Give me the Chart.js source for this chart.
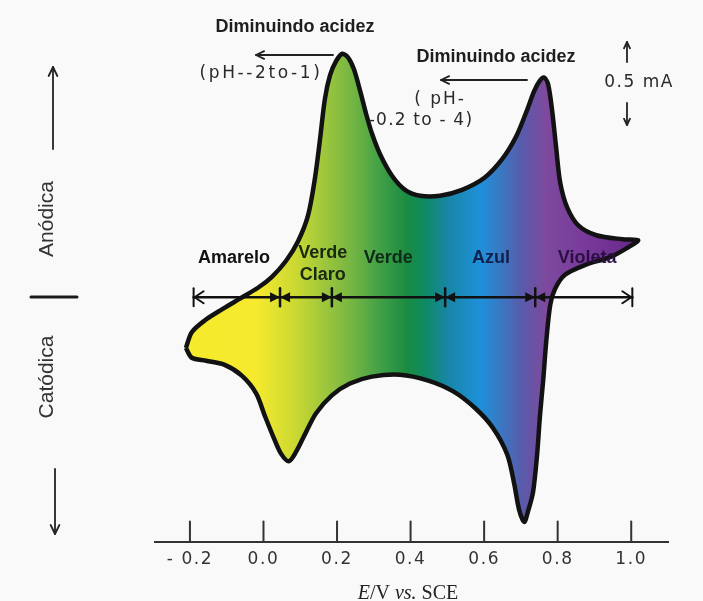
<!DOCTYPE html>
<html>
<head>
<meta charset="utf-8">
<script src="https://cdn.jsdelivr.net/npm/chart.js@4.4.0/dist/chart.umd.min.js"></script>
<style>
  html, body { margin: 0; padding: 0; background: #f9f9f9; }
  #wrap { width: 703px; height: 601px; }
</style>
</head>
<body>
<div id="wrap"><canvas id="cv" width="703" height="601"></canvas></div>
<script>
// Voltamograma ciclico - varredura direta (anodica) e reversa (catodica)
const forwardV = [-0.211, -0.195, -0.159, -0.113, -0.064, -0.015, 0.023, 0.061, 0.094, 0.121, 0.140, 0.154, 0.167, 0.181, 0.197, 0.214, 0.230, 0.246, 0.263, 0.279, 0.295, 0.317, 0.350, 0.385, 0.426, 0.480, 0.540, 0.600, 0.649, 0.687, 0.717, 0.736, 0.752, 0.763, 0.774, 0.785, 0.796, 0.807, 0.826, 0.856, 0.905, 0.976, 1.019];
const forwardI = [-0.309, -0.213, -0.140, -0.074, -0.008, 0.058, 0.125, 0.221, 0.342, 0.498, 0.727, 0.968, 1.209, 1.354, 1.438, 1.485, 1.462, 1.390, 1.257, 1.119, 0.998, 0.872, 0.739, 0.655, 0.619, 0.619, 0.655, 0.727, 0.842, 0.980, 1.143, 1.257, 1.323, 1.340, 1.299, 1.137, 0.908, 0.697, 0.546, 0.438, 0.378, 0.354, 0.348];
const reverseV = [0.992, 0.943, 0.875, 0.820, 0.793, 0.780, 0.769, 0.761, 0.752, 0.744, 0.733, 0.720, 0.709, 0.695, 0.682, 0.663, 0.624, 0.576, 0.516, 0.448, 0.371, 0.295, 0.235, 0.186, 0.143, 0.116, 0.088, 0.069, 0.048, 0.029, 0.004, -0.020, -0.059, -0.107, -0.156, -0.195, -0.211];
const reverseI = [0.305, 0.245, 0.197, 0.137, 0.052, -0.044, -0.267, -0.496, -0.719, -0.960, -1.189, -1.300, -1.370, -1.295, -1.140, -0.960, -0.797, -0.677, -0.574, -0.508, -0.472, -0.484, -0.526, -0.598, -0.707, -0.821, -0.945, -1.000, -0.955, -0.863, -0.725, -0.586, -0.478, -0.411, -0.387, -0.369, -0.309];

const tickValues = [-0.2, 0.0, 0.2, 0.4, 0.6, 0.8, 1.0];

// faixas de cor ao longo do potencial
const bandEdges = [-0.19, 0.045, 0.186, 0.494, 0.739, 1.003];
const bandNames = [['Amarelo'], ['Verde', 'Claro'], ['Verde'], ['Azul'], ['Violeta']];
const bandLabelV = [-0.08, 0.161, 0.339, 0.619, 0.88];

// cores do preenchimento (estilo)
const fillStops = [
    [-0.30, '#f6ea2c'], [-0.02, '#f6ea2e'], [0.09, '#c9d832'], [0.155, '#a4c93b'],
    [0.255, '#6cb244'], [0.317, '#41a046'], [0.39, '#1b8b42'], [0.434, '#0e8a5c'],
    [0.50, '#1886a6'], [0.59, '#1e90da'], [0.645, '#3a78c2'], [0.705, '#5a5aaa'],
    [0.765, '#7d4a9e'], [0.86, '#7a3c9c'], [1.0, '#6a2a8c'], [1.1, '#662888']
];
const bandTextColors = ['#111', '#1a2a12', '#0f2a18', '#10204a', '#2a1040'];

const loop = forwardV.map((v, i) => ({ x: v, y: forwardI[i] }))
    .concat(reverseV.map((v, i) => ({ x: v, y: reverseI[i] })));

function bandGradient(chart) {
    const { ctx, chartArea, scales } = chart;
    if (!chartArea) return 'transparent';
    const x0 = chartArea.left, x1 = chartArea.right;
    const g = ctx.createLinearGradient(x0, 0, x1, 0);
    fillStops.forEach(([v, c]) => {
        const t = (scales.x.getPixelForValue(v) - x0) / (x1 - x0);
        g.addColorStop(Math.min(1, Math.max(0, t)), c);
    });
    return g;
}

function seg(ctx, x1, y1, x2, y2) {
    ctx.beginPath();
    ctx.moveTo(x1, y1);
    ctx.lineTo(x2, y2);
    ctx.stroke();
}

// seta aberta (cabeca em x2,y2)
function arrow(ctx, x1, y1, x2, y2, head) {
    seg(ctx, x1, y1, x2, y2);
    const a = Math.atan2(y2 - y1, x2 - x1);
    ctx.beginPath();
    ctx.moveTo(x2 - head * Math.cos(a - 0.45), y2 - head * Math.sin(a - 0.45));
    ctx.lineTo(x2, y2);
    ctx.lineTo(x2 - head * Math.cos(a + 0.45), y2 - head * Math.sin(a + 0.45));
    ctx.stroke();
}

function text(ctx, str, x, y, font, color, spacing) {
    ctx.font = font;
    ctx.fillStyle = color;
    ctx.letterSpacing = spacing || '0px';
    ctx.fillText(str, x, y);
}

const decor = {
    id: 'decor',
    beforeDraw(chart) {
        chart.ctx.letterSpacing = '1.6px';
    },
    afterDatasetsDraw(chart) {
        const { ctx, chartArea, scales: { x, y } } = chart;
        ctx.save();
        ctx.letterSpacing = '0px';
        ctx.lineCap = 'round';
        ctx.lineJoin = 'round';

        // marcas do eixo voltadas para cima
        ctx.strokeStyle = '#333';
        ctx.lineWidth = 2;
        x.ticks.forEach(t => {
            const px = x.getPixelForValue(t.value);
            seg(ctx, px, chartArea.bottom, px, chartArea.bottom - 20);
        });

        // linha das faixas de cor
        const y0 = y.getPixelForValue(0);
        const xs = bandEdges.map(v => x.getPixelForValue(v));
        ctx.strokeStyle = '#111';
        ctx.fillStyle = '#111';
        ctx.lineWidth = 2.5;
        seg(ctx, xs[0], y0, xs[xs.length - 1], y0);
        ctx.lineWidth = 2;
        const xl = xs[0], xr = xs[xs.length - 1];
        seg(ctx, xl, y0 - 9, xl, y0 + 9);
        seg(ctx, xr, y0 - 9, xr, y0 + 9);
        ctx.beginPath();
        ctx.moveTo(xl + 10, y0 - 6); ctx.lineTo(xl + 1, y0); ctx.lineTo(xl + 10, y0 + 6);
        ctx.stroke();
        ctx.beginPath();
        ctx.moveTo(xr - 10, y0 - 6); ctx.lineTo(xr - 1, y0); ctx.lineTo(xr - 10, y0 + 6);
        ctx.stroke();
        ctx.lineWidth = 2.5;
        xs.slice(1, -1).forEach(px => {
            seg(ctx, px, y0 - 9, px, y0 + 9);
            ctx.beginPath();
            ctx.moveTo(px - 10, y0 - 5); ctx.lineTo(px, y0); ctx.lineTo(px - 10, y0 + 5);
            ctx.closePath(); ctx.fill();
            ctx.beginPath();
            ctx.moveTo(px + 10, y0 - 5); ctx.lineTo(px, y0); ctx.lineTo(px + 10, y0 + 5);
            ctx.closePath(); ctx.fill();
        });

        // nomes das faixas
        ctx.textAlign = 'center';
        ctx.textBaseline = 'middle';
        bandNames.forEach((lines, i) => {
            const px = x.getPixelForValue(bandLabelV[i]);
            const top = lines.length > 1 ? y0 - 44 : y0 - 39;
            lines.forEach((ln, k) => {
                text(ctx, ln, px, top + k * 22, 'bold 18px "Liberation Sans", Arial, sans-serif', bandTextColors[i]);
            });
        });
        ctx.restore();
    },
    afterDraw(chart) {
        const { ctx } = chart;
        ctx.save();
        ctx.lineCap = 'round';
        ctx.lineJoin = 'round';
        ctx.textAlign = 'center';
        ctx.textBaseline = 'middle';
        const bold = 'bold 18px "Liberation Sans", Arial, sans-serif';
        const din = '17px "DejaVu Sans", sans-serif';

        // anotacoes do topo
        text(ctx, 'Diminuindo acidez', 295, 27, bold, '#1e1e1e');
        text(ctx, '(pH--2to-1)', 261, 74, din, '#2a2a2a', '2.6px');
        text(ctx, 'Diminuindo acidez', 496, 57, bold, '#1e1e1e');
        text(ctx, '( pH-', 440, 100, din, '#2a2a2a', '2px');
        text(ctx, '-0.2 to - 4)', 421, 121, din, '#2a2a2a', '1.2px');
        text(ctx, '0.5 mA', 639, 83, din, '#2a2a2a', '1.5px');

        ctx.letterSpacing = '0px';
        ctx.strokeStyle = '#222';
        ctx.lineWidth = 1.8;
        arrow(ctx, 333, 55, 256, 55, 9);
        arrow(ctx, 527, 80, 441, 80, 9);
        arrow(ctx, 627, 62, 627, 42, 7);
        arrow(ctx, 627, 103, 627, 125, 7);

        // lado esquerdo
        arrow(ctx, 53, 149, 53, 67, 10);
        arrow(ctx, 55, 469, 55, 534, 10);
        ctx.lineWidth = 3;
        ctx.strokeStyle = '#1a1a1a';
        seg(ctx, 31, 297, 77, 297);

        const side = '21px "Liberation Sans", Arial, sans-serif';
        [['Anódica', 219], ['Catódica', 377]].forEach(([s, cy]) => {
            ctx.save();
            ctx.translate(47, cy);
            ctx.rotate(-Math.PI / 2);
            text(ctx, s, 0, 0, side, '#333');
            ctx.restore();
        });

        // titulo do eixo x: E/V vs. SCE
        const parts = [['E', 'italic'], ['/V ', ''], ['vs.', 'italic'], [' SCE', '']];
        const fam = '20px "Liberation Serif", "Times New Roman", serif';
        ctx.textAlign = 'left';
        ctx.textBaseline = 'alphabetic';
        ctx.letterSpacing = '0px';
        let total = 0;
        parts.forEach(([s, st]) => { ctx.font = (st ? st + ' ' : '') + fam; total += ctx.measureText(s).width; });
        let cx = 408 - total / 2;
        parts.forEach(([s, st]) => {
            ctx.font = (st ? st + ' ' : '') + fam;
            ctx.fillStyle = '#222';
            ctx.fillText(s, cx, 599);
            cx += ctx.measureText(s).width;
        });
        ctx.restore();
    }
};

new Chart(document.getElementById('cv'), {
    type: 'line',
    data: {
        datasets: [{
            data: loop,
            borderColor: '#121212',
            borderWidth: 4.5,
            pointRadius: 0,
            tension: 0.3,
            fill: 'shape',
            backgroundColor: (c) => bandGradient(c.chart)
        }]
    },
    options: {
        responsive: false,
        animation: false,
        devicePixelRatio: 1,
        layout: { padding: { left: 155, right: 35, top: 7, bottom: 23 } },
        plugins: {
            legend: { display: false },
            tooltip: { enabled: false }
        },
        scales: {
            x: {
                type: 'linear',
                min: -0.295,
                max: 1.1,
                afterBuildTicks: (axis) => { axis.ticks = tickValues.map(v => ({ value: v })); },
                grid: { drawOnChartArea: false, drawTicks: false },
                border: { display: true, color: '#333', width: 2 },
                ticks: {
                    color: '#333',
                    padding: 8,
                    autoSkip: false,
                    maxRotation: 0,
                    font: { family: '"DejaVu Sans", sans-serif', size: 17 },
                    callback: (v) => v < 0 ? '- ' + Math.abs(v).toFixed(1) : v.toFixed(1)
                }
            },
            y: {
                display: false,
                min: -1.49,
                max: 1.77
            }
        }
    },
    plugins: [decor]
});
</script>
</body>
</html>
